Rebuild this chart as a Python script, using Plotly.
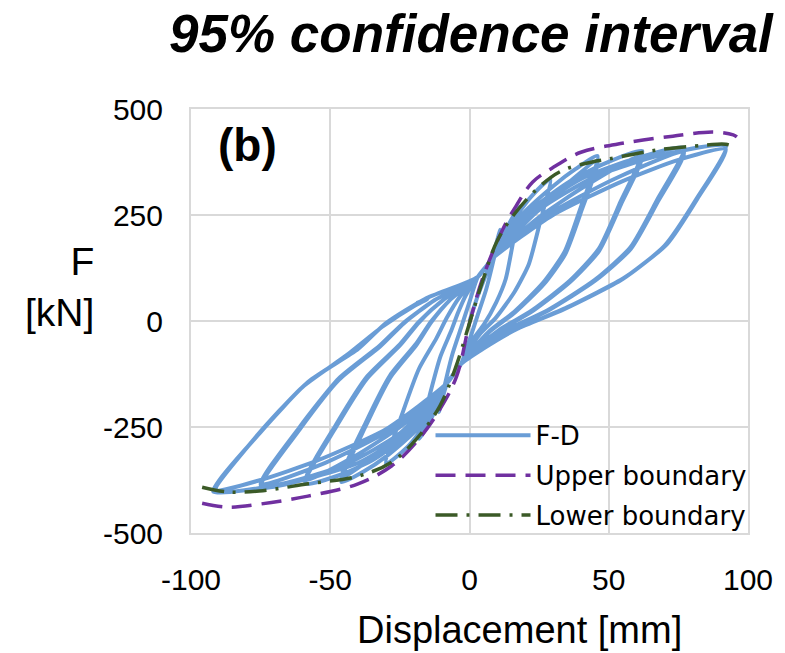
import plotly.graph_objects as go

# ---------------- data ----------------
# F-D hysteresis path, traced cycle by cycle (displacement mm, force kN)
FD_DISP = [
    # amplitude ~11 mm
    0, 3, 8, 11, 8.5, 6, 3, 0, -3, -8, -11, -8.5, -6, -3, 0, 3,
    # amplitude ~18 mm
    8, 13, 18, 15.5, 13, 9.6, 5.2, 1.4, -1.3, -3, -8, -13, -18,
    -14.2, -10.4, -6.5, -4.1, -1.2, 3,
    # amplitude ~29 mm
    8, 15, 22, 29, 25.2, 21.3, 16.2, 9.5, 3.7, -0.4, -3, -8, -15, -22, -30,
    -24, -18.1, -11.9, -8.2, -3.6, 3,
    # amplitude ~46 mm (cycle 1)
    8, 18, 30, 38, 46, 40.1, 34.2, 26.4, 16.1, 7.3, 1.1, -3,
    -8, -18, -30, -38, -46, -37.2, -28.4, -19, -13.7, -6.8, 3,
    # amplitude ~46 mm (cycle 2)
    8, 20, 33, 46, 40.3, 34.4, 26.6, 16.3, 7.4, 1.1, -3,
    -8, -20, -33, -46, -37.3, -28.5, -19.1, -13.8, -6.8, 3,
    # amplitude ~62 mm (cycle 1)
    8, 20, 35, 48, 62, 54.2, 46.4, 36, 22.4, 10.7, 2.2, -3,
    -8, -20, -34, -46, -59, -47.8, -36.7, -24.9, -18.1, -9.4, 3,
    # amplitude ~62 mm (cycle 2)
    8, 24, 42, 62, 54.3, 46.5, 36.1, 22.5, 10.8, 2.2, -3,
    -8, -24, -42, -59, -47.9, -36.8, -25, -18.2, -9.4, 3,
    # amplitude ~77 mm (cycle 1)
    8, 22, 40, 58, 77, 67.4, 57.8, 45, 28.2, 13.8, 3.4, -3,
    -8, -22, -40, -57, -75, -61, -46.9, -32.1, -23.5, -12.6, 3,
    # amplitude ~77 mm (cycle 2)
    8, 28, 52, 77, 67.5, 57.9, 45.1, 28.3, 13.8, 3.4, -3,
    -8, -28, -52, -75, -61.2, -47, -32.2, -23.6, -12.6, 3,
    # amplitude ~92 mm (cycle 1)
    8, 25, 45, 68, 92, 81.5, 70, 55, 34, 17, 5, -3,
    -8, -25, -45, -68, -92, -75, -58, -40, -30, -16, 3,
    # amplitude ~92 mm (cycle 2, ends with the small hook)
    8, 30, 55, 75, 92, 82, 71, 56, 35, 18, 5, -3,
    -8, -30, -55, -75, -91, -76, -60, -44, -31, -20, -15, -19,
]
FD_FORCE = [
    0, 60, 146, 215, 140, 75, 15, -45, -101, -146, -215, -140, -75, -15, 45, 104,
    146, 215, 270, 181, 99, 44, -8, -42, -75, -101, -146, -220, -278,
    -173, -83, -22, 20, 62, 104,
    146, 230, 292, 335, 230, 134, 69, 8, -31, -70, -101, -146, -235, -295, -337,
    -216, -112, -41, 7, 56, 104,
    146, 245, 318, 358, 389, 271, 164, 90, 22, -23, -67, -101,
    -146, -250, -320, -355, -380, -247, -133, -56, -2.5, 51, 104,
    146, 232, 312, 378, 262, 158, 86, 20, -24, -67, -101,
    -146, -238, -312, -370, -240, -128, -53, -1, 51, 104,
    146, 250, 325, 370, 401, 281, 170, 95, 25, -21, -66, -101,
    -146, -255, -325, -362, -383, -249, -135, -57, -3, 50, 104,
    146, 240, 320, 390, 274, 165, 92, 23, -22, -66, -101,
    -146, -245, -322, -376, -244, -131, -55, -2, 50, 104,
    146, 255, 335, 380, 408, 286, 174, 97, 26, -20, -66, -101,
    -146, -260, -335, -370, -392, -256, -139, -60, -5, 49, 104,
    146, 250, 335, 398, 280, 170, 95, 25, -21, -66, -101,
    -146, -255, -335, -385, -252, -136, -58, -4, 49, 104,
    146, 262, 340, 390, 412, 288, 177, 99, 28, -19, -65, -101,
    -146, -265, -340, -385, -402, -262, -144, -66, -5, 52, 104,
    146, 250, 330, 380, 405, 290, 182, 104, 32, -16, -63, -101,
    -146, -255, -330, -375, -398, -268, -156, -80, -12, 35, 52, 42,
]

UPPER_DISP = [-96, -87, -75.5, -58, -40, -28, -19, -10.6, -4.6, 0, 5, 12, 16.7,
              22.7, 31, 40, 55.7, 73, 87.6, 94.7, 96]
UPPER_FORCE = [-430, -439, -432, -413, -384, -342, -285, -208, -130, -5, 106, 217, 271,
               328, 366, 398, 420, 436, 446, 439, 434]

LOWER_DISP = [-96, -87, -75.5, -58, -40, -28, -19, -10.6, -5, 0, 5, 10, 16.7,
              25, 33, 44, 50, 67, 85, 92, 96]
LOWER_FORCE = [-392, -403, -401, -384, -366, -333, -278, -200, -110, -5, 100, 190, 257,
               316, 354, 375, 382, 403, 415, 417, 408]

X_TICKS = [-100, -50, 0, 50, 100]
X_TICK_TEXT = ["-100", "-50", "0", "50", "100"]
Y_TICKS = [-500, -250, 0, 250, 500]
Y_TICK_TEXT = ["-500", "-250", "0", "250", "500"]

SERIES_NAMES = ["F-D", "Upper boundary", "Lower boundary"]

# ---------------- figure ----------------
BLUE = "#6A9DD6"
PURPLE = "#7030A0"
GREEN = "#3B5A27"

fig = go.Figure()
fig.add_trace(go.Scatter(x=FD_DISP, y=FD_FORCE, mode="lines", name=SERIES_NAMES[0],
                         legendgroup="a",
                         line=dict(color=BLUE, width=4, shape="spline", smoothing=0.6)))
fig.add_trace(go.Scatter(x=UPPER_DISP, y=UPPER_FORCE, mode="lines", name=SERIES_NAMES[1],
                         legendgroup="b",
                         line=dict(color=PURPLE, width=3.5, dash="20px,10px", shape="spline")))
fig.add_trace(go.Scatter(x=LOWER_DISP, y=LOWER_FORCE, mode="lines", name=SERIES_NAMES[2],
                         legendgroup="c",
                         line=dict(color=GREEN, width=3.5, dash="22px,9px,3px,9px", shape="spline")))

GRID = "#D9D9D9"
axis_common = dict(showgrid=True, gridcolor=GRID, gridwidth=2, zeroline=False,
                   showline=True, linecolor=GRID, linewidth=2, mirror=True, ticks="",
                   tickfont=dict(family="Liberation Sans, Arial, sans-serif", size=30, color="#000"))
fig.update_xaxes(range=[-100, 100], tickmode="array", tickvals=X_TICKS, ticktext=X_TICK_TEXT,
                 ticklabelstandoff=19, **axis_common)
fig.update_yaxes(range=[-500, 500], tickmode="array", tickvals=Y_TICKS, ticktext=Y_TICK_TEXT,
                 ticklabelstandoff=20, **axis_common)

fig.update_layout(
    width=785, height=653,
    margin=dict(l=191, r=29, t=109, b=120),
    paper_bgcolor="white", plot_bgcolor="white",
    showlegend=True,
    legend=dict(x=0.43, y=-0.014, xanchor="left", yanchor="bottom",
                bgcolor="rgba(0,0,0,0)", borderwidth=0,
                font=dict(family="DejaVu Sans, sans-serif", size=26, color="#000"),
                tracegroupgap=3, itemwidth=95),
    annotations=[
        dict(text="<b><i>95% confidence interval</i></b>", xref="paper", yref="paper",
             x=1.05, y=1.0, yshift=76, xanchor="right", yanchor="middle", showarrow=False,
             font=dict(family="Liberation Sans, Arial, sans-serif", size=53, color="#000")),
        dict(text="<b>(b)</b>", xref="paper", yref="paper", x=0.045, y=0.915,
             xanchor="left", yanchor="middle", showarrow=False,
             font=dict(family="Liberation Sans, Arial, sans-serif", size=46, color="#000")),
        dict(text="F<br>[kN]", xref="paper", yref="paper", x=-0.17, y=0.58,
             xanchor="right", yanchor="middle", align="right", showarrow=False,
             font=dict(family="Liberation Sans, Arial, sans-serif", size=39, color="#000")),
        dict(text="Displacement [mm]", xref="paper", yref="paper", x=0.59, y=0.0,
             yshift=-97, xanchor="center", yanchor="middle", showarrow=False,
             font=dict(family="Liberation Sans, Arial, sans-serif", size=38, color="#000")),
    ],
)

fig.write_html("out.html")
